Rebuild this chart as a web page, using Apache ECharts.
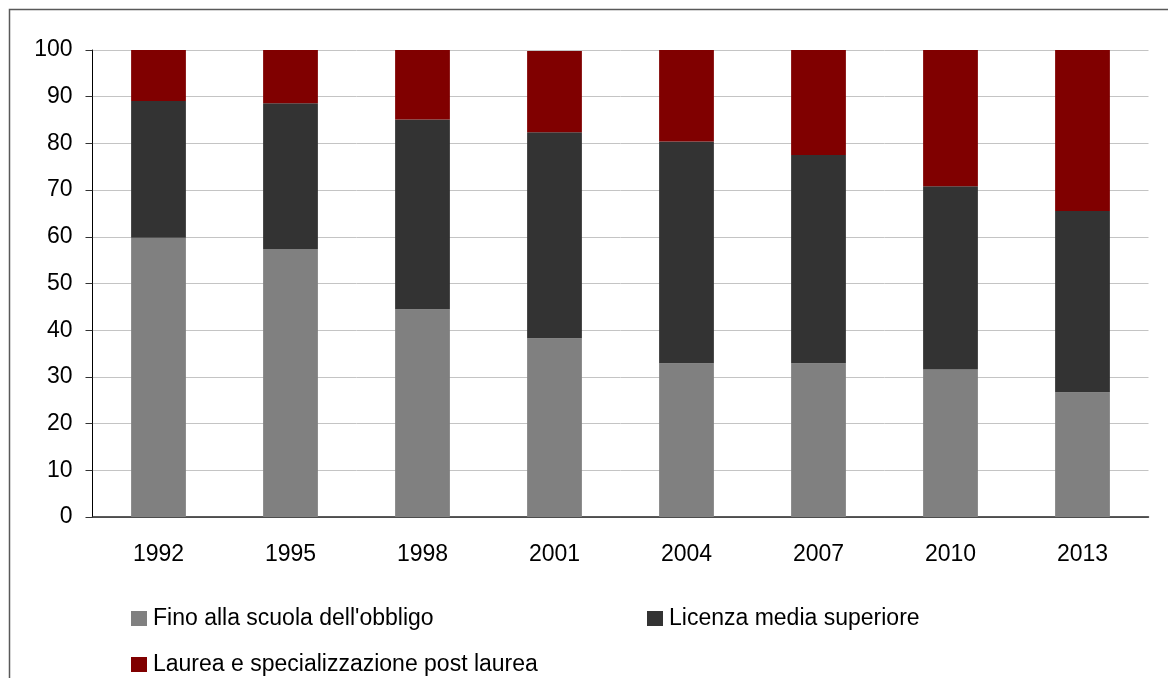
<!DOCTYPE html>
<html>
<head>
<meta charset="utf-8">
<title>Titolo di studio</title>
<script src="https://cdn.jsdelivr.net/npm/echarts@6/dist/echarts.min.js"></script>
<style>
  html, body { margin: 0; padding: 0; background: #ffffff; }
  #chart { width: 1168px; height: 678px; }
</style>
</head>
<body>
<div id="chart"></div>
<script>
// Survey years
const years = ['1992', '1995', '1998', '2001', '2004', '2007', '2010', '2013'];

// Share of each education level (percent)
const obbligo = [59.8, 57.4, 44.5, 38.3, 32.9, 32.9, 31.6, 26.7];
const mediaSuperiore = [29.3, 31.2, 40.6, 44.1, 47.5, 44.6, 39.2, 38.8];
const laurea = [10.9, 11.4, 14.9, 17.4, 19.6, 22.5, 29.2, 34.5];

const seriesNames = [
  'Fino alla scuola dell\'obbligo',
  'Licenza media superiore',
  'Laurea e specializzazione post laurea'
];
const seriesColors = ['#808080', '#333333', '#800000'];

const FONT = '"Liberation Sans", Arial, sans-serif';
const chart = echarts.init(document.getElementById('chart'), null, { renderer: 'canvas' });

function legendAt(name, left, top) {
  return {
    data: [name],
    left: left,
    top: top,
    orient: 'horizontal',
    icon: 'rect',
    itemWidth: 16,
    itemHeight: 15,
    itemGap: 0,
    padding: 0,
    selectedMode: false,
    textStyle: { fontFamily: FONT, fontSize: 23, color: '#000000', padding: [0, 0, 0, 1] }
  };
}

chart.setOption({
  animation: false,
  backgroundColor: '#ffffff',
  textStyle: { fontFamily: FONT },
  graphic: [{
    type: 'rect',
    silent: true,
    shape: { x: 9.5, y: 9.5, width: 1300, height: 800 },
    style: { fill: 'none', stroke: '#595959', lineWidth: 1.5 }
  }],
  grid: { left: 92.5, right: 19.5, top: 50, bottom: 161, containLabel: false },
  legend: [
    legendAt(seriesNames[0], 131, 607),
    legendAt(seriesNames[1], 647, 607),
    legendAt(seriesNames[2], 131, 653)
  ],
  xAxis: {
    type: 'category',
    data: years,
    axisLine: { show: true, lineStyle: { color: '#262626', width: 1.5 } },
    axisTick: { show: false },
    axisLabel: { color: '#000000', fontSize: 23, fontFamily: FONT, margin: 26 },
    splitLine: { show: false }
  },
  yAxis: {
    type: 'value',
    min: 0,
    max: 100,
    interval: 10,
    axisLine: { show: true, lineStyle: { color: '#000000', width: 1 } },
    axisTick: { show: true, inside: false, length: 7, lineStyle: { color: '#333333' } },
    axisLabel: { color: '#000000', fontSize: 23, fontFamily: FONT, margin: 20 },
    splitLine: { show: true, lineStyle: { color: '#c4c4c4', width: 1 } }
  },
  series: [obbligo, mediaSuperiore, laurea].map((values, i) => ({
    name: seriesNames[i],
    type: 'bar',
    stack: 'totale',
    data: values,
    barWidth: '41.5%',
    itemStyle: { color: seriesColors[i] },
    emphasis: { disabled: true }
  }))
});
</script>
</body>
</html>
